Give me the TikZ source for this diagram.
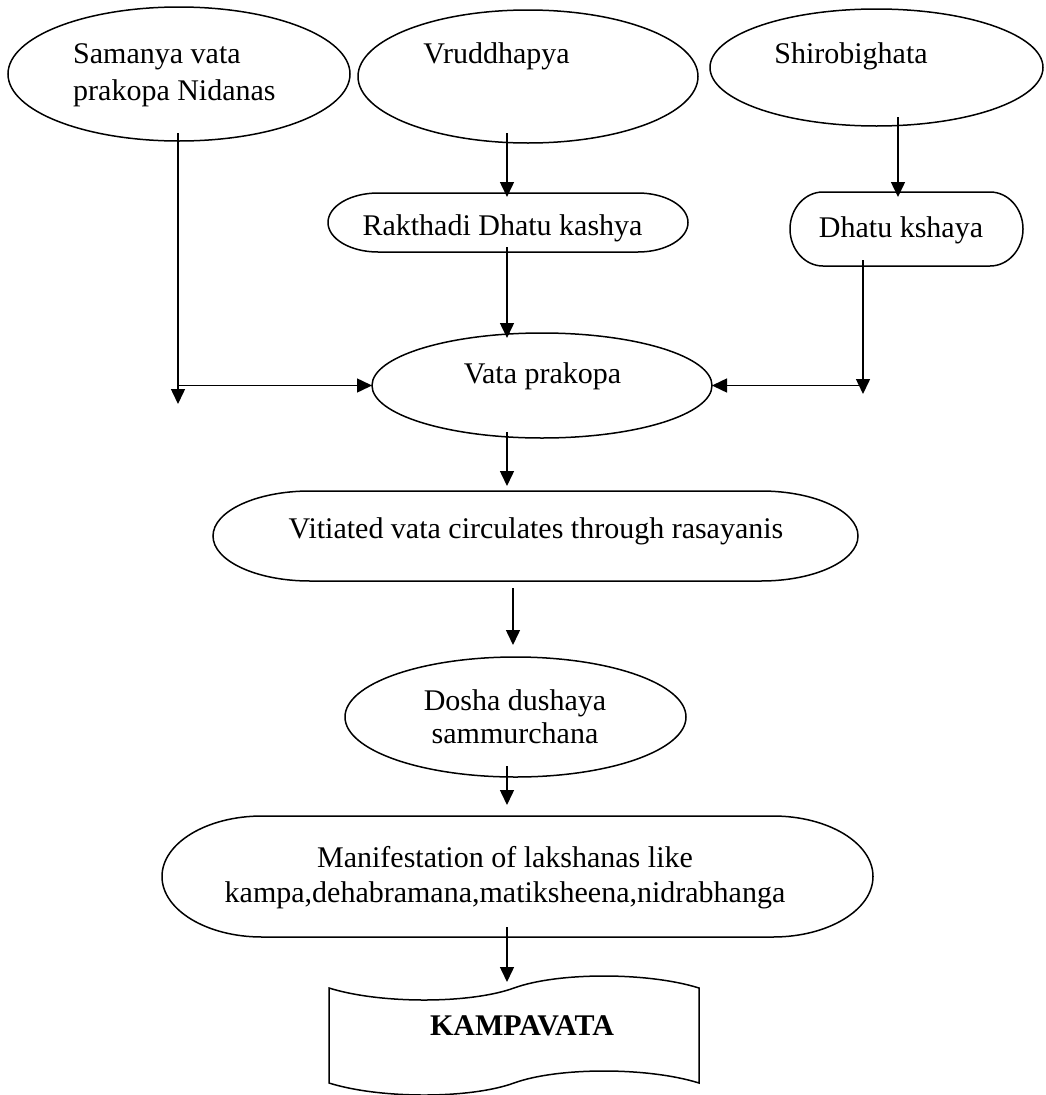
\documentclass[tikz,border=0pt]{standalone}
\usepackage{fontspec}
\setmainfont{Liberation Serif}
\usetikzlibrary{shapes.geometric,arrows.meta,calc}
\newcommand\stadium[3]{\draw[ln] ([xshift=#2pt]#1.north west) -- ([xshift=-#2pt]#1.north east) arc[start angle=90,end angle=-90,x radius=#2pt,y radius=#3pt] -- ([xshift=#2pt]#1.south west) arc[start angle=270,end angle=90,x radius=#2pt,y radius=#3pt] -- cycle;}
\begin{document}
\begin{tikzpicture}[x=1pt,y=-1pt,
  ln/.style={line width=1.5pt, black},
  arr/.style={ln, -{Triangle[length=15pt,width=14pt]}},
  ell/.style={ellipse, draw, ln, inner sep=0pt, outer sep=0pt},
  frame/.style={rectangle, draw=none, inner sep=0pt, outer sep=0pt},
  txt/.style={font=\fontsize{30}{35}\selectfont, inner sep=0pt, anchor=base},
]
\useasboundingbox (0,0) rectangle (1045,1095);

% shapes
\node[ell, minimum width=342pt, minimum height=134pt] (samanya) at (179,74) {};
\node[ell, minimum width=340pt, minimum height=133pt] (vrud) at (528,76.5) {};
\node[ell, minimum width=333pt, minimum height=117pt] (shiro) at (876.5,67.5) {};
\node[frame, minimum width=360pt, minimum height=59pt] (rak) at (508,222.5) {};
\node[frame, minimum width=233pt, minimum height=74pt] (dhatu) at (906.5,229) {};
\node[ell, minimum width=340pt, minimum height=105pt] (vata) at (542,385.5) {};
\node[frame, minimum width=645pt, minimum height=90pt] (vit) at (535.5,536) {};
\node[ell, minimum width=341pt, minimum height=120pt] (dosha) at (515.5,717) {};
\node[frame, minimum width=711pt, minimum height=121pt] (manif) at (517.5,876.5) {};
\node[frame, minimum width=370pt, minimum height=95pt] (kampa) at (514,1035.5) {};

\stadium{rak}{50}{29.5}
\stadium{dhatu}{33}{37}
\stadium{vit}{97}{45}
\stadium{manif}{100}{60.5}
\draw[ln] (kampa.north west)
  .. controls ($(kampa.north west)+(51,16)$) and ($(kampa.north)+(-44,16)$) .. (kampa.north)
  .. controls ($(kampa.north)+(44,-16)$) and ($(kampa.north east)+(-51,-16)$) .. (kampa.north east)
  -- (kampa.south east)
  .. controls ($(kampa.south east)+(-51,-16)$) and ($(kampa.south)+(44,-16)$) .. (kampa.south)
  .. controls ($(kampa.south)+(-44,16)$) and ($(kampa.south west)+(51,16)$) .. (kampa.south west)
  -- cycle;

% texts
\node[txt, anchor=base west] (t1) at (73,63) {Samanya vata};
\node[txt, anchor=base west] (t2) at (73,100) {prakopa Nidanas};
\node[txt] (t3) at (496.5,63) {Vruddhapya};
\node[txt] (t4) at (851,63) {Shirobighata};
\node[txt] (t5) at (502.5,235) {Rakthadi Dhatu kashya};
\node[txt] (t6) at (901,237) {Dhatu kshaya};
\node[txt] (t7) at (542.5,383) {Vata prakopa};
\node[txt] (t8) at (536,538) {Vitiated vata circulates through rasayanis};
\node[txt] (t9) at (515,710) {Dosha dushaya};
\node[txt] (t10) at (515,743) {sammurchana};
\node[txt] (t11) at (505,867) {Manifestation of lakshanas like};
\node[txt] (t12) at (505,902) {kampa,dehabramana,matiksheena,nidrabhanga};
\node[txt, font=\fontsize{30}{35}\selectfont\bfseries] (t13) at (522,1035) {KAMPAVATA};

% columns and free ends
\coordinate (cA) at (178,0);
\coordinate (cB) at (507,0);
\coordinate (cC) at (898,0);
\coordinate (cD) at (863,0);
\coordinate (cE) at (513,0);
\coordinate (lfree) at (178,404);
\coordinate (rfree) at (863,394);

% connectors
\draw[arr, shorten <=-10pt, shorten >=-4pt] (vrud.south -| cB) -- (rak.north -| cB);
\draw[arr, shorten <=-9pt, shorten >=-5pt] (shiro.south -| cC) -- (dhatu.north -| cC);
\draw[arr, shorten <=-8pt] (samanya.south -| cA) -- (lfree);
\draw[arr] (lfree |- vata.west) -- (vata.west);
\draw[arr, shorten <=-5pt, shorten >=-5pt] (rak.south -| cB) -- (vata.north -| cB);
\draw[arr, shorten <=-6pt] (dhatu.south -| cD) -- (rfree);
\draw[arr] (rfree |- vata.east) -- (vata.east);
\draw[arr, shorten <=-6pt, shorten >=5pt] (vata.south -| cB) -- (vit.north -| cB);
\draw[arr, shorten <=7pt, shorten >=12pt] (vit.south -| cE) -- (dosha.north -| cE);
\draw[arr, shorten <=-11pt, shorten >=11pt] (dosha.south -| cB) -- (manif.north -| cB);
\draw[arr, shorten <=-10pt, shorten >=6pt] (manif.south -| cB) -- (kampa.north -| cB);
\end{tikzpicture}
\end{document}
